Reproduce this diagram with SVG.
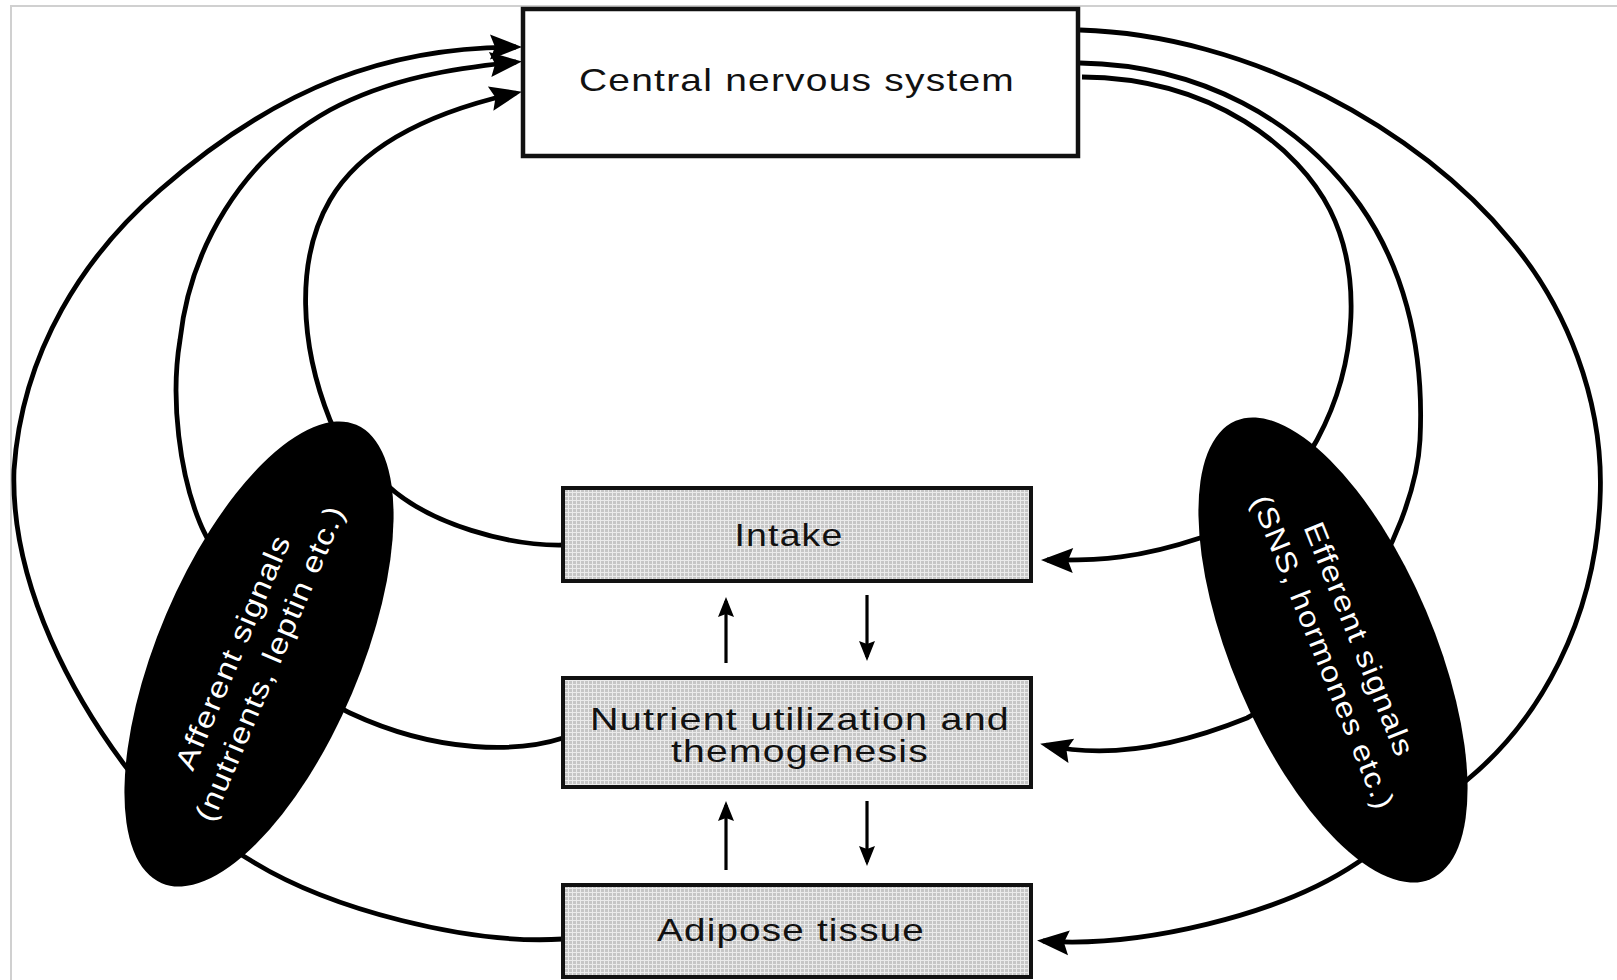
<svg xmlns="http://www.w3.org/2000/svg" width="1617" height="980" viewBox="0 0 1617 980">
<defs>
<pattern id="stip" width="4" height="4" patternUnits="userSpaceOnUse">
<rect width="4" height="4" fill="#c6c6c6"/>
<rect width="4" height="1" fill="#ebebeb"/>
<rect width="1" height="4" fill="#ebebeb"/>
</pattern>
<marker id="ah" viewBox="-34 -14 42 28" refX="-6" refY="0" markerWidth="42" markerHeight="28" markerUnits="userSpaceOnUse" orient="auto">
<path d="M0,0 L-32,-12.5 L-27,0 L-32,12.5 Z" fill="#000"/>
</marker>
<marker id="ahs" viewBox="-22 -9 26 18" refX="-4" refY="0" markerWidth="26" markerHeight="18" markerUnits="userSpaceOnUse" orient="auto">
<path d="M0,0 L-20,-8 L-17,0 L-20,8 Z" fill="#000"/>
</marker>
</defs>
<style>
.frame{stroke:#d0d0d0;stroke-width:2;fill:none}
.c{fill:none;stroke:#000;stroke-width:4.8;marker-end:url(#ah)}
.s{fill:none;stroke:#000;stroke-width:3.2;marker-end:url(#ahs)}
.box{fill:url(#stip);stroke:#111;stroke-width:4}
.cns{fill:#fff;stroke:#111;stroke-width:4.5}
.t{font-family:"Liberation Sans",Arial,Helvetica,sans-serif;font-size:32px;fill:#111;text-anchor:middle;letter-spacing:1px}
.et{font-family:"Liberation Sans",Arial,Helvetica,sans-serif;font-size:29px;fill:#fff;text-anchor:middle;letter-spacing:1px}
.ell{fill:#000}
</style>
<rect width="1617" height="980" fill="#fff"/>
<path class="frame" d="M11,980 L11,6 L1617,6"/>
<g id="connectors">
<path class="c" d="M563,545 C510,546 430,525 387,485 C360,460 340,445 330,420 C300,345 295,260 330,200 C365,140 440,110 516,93"/>
<path class="c" d="M563,738 C520,752 440,755 350,713 C300,690 215,560 200,523 C180,475 170,400 180,340 C190,250 240,160 330,110 C390,78 455,68 516,62"/>
<path class="c" d="M563,939 C470,945 330,910 250,860 C200,830 150,800 123,763 C80,705 10,590 14,470 C22,350 85,255 160,190 C280,85 390,47 516,47"/>
<path class="c" d="M1082,77 C1215,78 1300,150 1330,210 C1360,270 1360,360 1317,440 C1290,490 1250,520 1200,538 C1140,558 1100,561 1047,560"/>
<path class="c" d="M1080,63 C1200,65 1300,120 1360,205 C1400,262 1425,340 1420,440 C1415,540 1320,680 1247,718 C1180,745 1110,760 1046,745"/>
<path class="c" d="M1080,30 C1250,35 1420,130 1510,240 C1565,305 1605,400 1600,500 C1595,620 1540,720 1467,780 C1430,810 1395,838 1357,863 C1280,915 1140,948 1043,941"/>
<path class="s" d="M726,663 L726,601"/>
<path class="s" d="M867,595 L867,657"/>
<path class="s" d="M726,870 L726,805"/>
<path class="s" d="M867,801 L867,862"/>
</g>
<g id="cns">
<rect class="cns" x="523" y="9" width="555" height="147"/>
<text class="t" x="797" y="91" textLength="436" lengthAdjust="spacingAndGlyphs">Central nervous system</text>
</g>
<g id="intake">
<rect class="box" x="563" y="488" width="468" height="93"/>
<text class="t" x="789" y="546" textLength="109" lengthAdjust="spacingAndGlyphs">Intake</text>
</g>
<g id="nutrient">
<rect class="box" x="563" y="678" width="468" height="109"/>
<text class="t" x="800" y="730" textLength="420" lengthAdjust="spacingAndGlyphs">Nutrient utilization and</text>
<text class="t" x="800" y="762" textLength="258" lengthAdjust="spacingAndGlyphs">themogenesis</text>
</g>
<g id="adipose">
<rect class="box" x="563" y="885" width="468" height="92"/>
<text class="t" x="791" y="941" textLength="268" lengthAdjust="spacingAndGlyphs">Adipose tissue</text>
</g>
<g id="afferent">
<ellipse class="ell" cx="0" cy="0" rx="101" ry="249" transform="translate(259,654) rotate(23)"/>
<text class="et" transform="translate(242,656) rotate(-67)" textLength="252" lengthAdjust="spacingAndGlyphs">Afferent signals</text>
<text class="et" transform="translate(279,667) rotate(-67)" textLength="340" lengthAdjust="spacingAndGlyphs">(nutrients, leptin etc.)</text>
</g>
<g id="efferent">
<ellipse class="ell" cx="0" cy="0" rx="101" ry="249" transform="translate(1333,650) rotate(-23)"/>
<text class="et" transform="translate(1350,643) rotate(68)" textLength="250" lengthAdjust="spacingAndGlyphs">Efferent signals</text>
<text class="et" transform="translate(1314,656) rotate(68)" textLength="336" lengthAdjust="spacingAndGlyphs">(SNS, hormones etc.)</text>
</g>
</svg>
